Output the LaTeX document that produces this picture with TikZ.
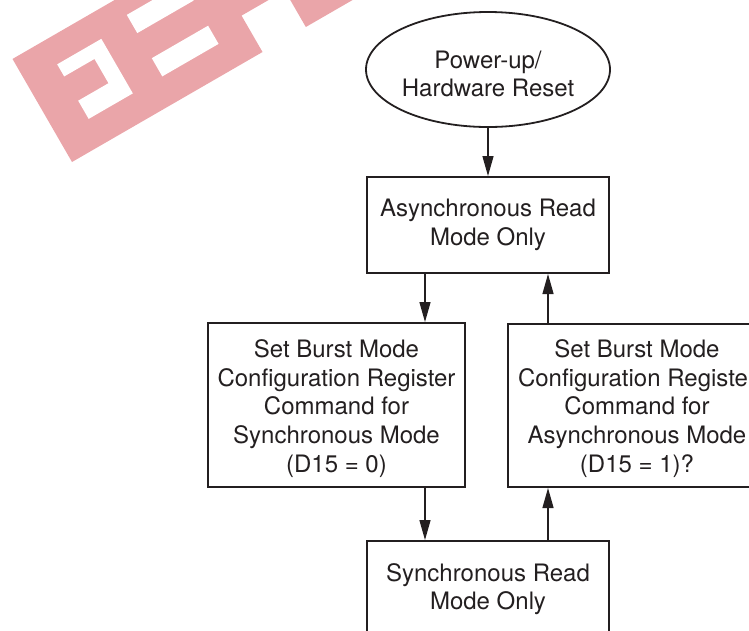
\documentclass[tikz,border=0pt]{standalone}
\usepackage{fontspec}
\setmainfont{TeX Gyre Heros}
\usetikzlibrary{shapes.geometric,arrows.meta}
\definecolor{wmpink}{RGB}{234,165,169}
\definecolor{ink}{RGB}{35,31,32}
\begin{document}
\begin{tikzpicture}[x=1pt,y=-1pt,
  every node/.style={font=\fontsize{24}{28.7}\selectfont, text=ink, align=center, inner sep=0pt},
  boxnode/.style={draw=ink, line width=2pt, rectangle},
  startnode/.style={draw=ink, line width=1.8pt, ellipse, minimum width=244pt, minimum height=115pt},
  arr/.style={draw=ink, line width=1.3pt, -{Triangle[length=20pt,width=11pt]}}]
\useasboundingbox (0,0) rectangle (749,630);
\clip (0,0) rectangle (749,630);
% watermark
\begin{scope}[shift={(72,162)}, rotate=30]
\fill[wmpink] (0,0) -- (220,0) -- (220,-42) -- (270,-42) -- (270,0) -- (420,0) -- (420,-119) -- (0,-119) -- cycle;
\fill[white] (36,-29) -- (87,-29) -- (87,-92) -- (36,-92) -- (36,-78) -- (71,-78) -- (71,-50) -- (36,-50) -- cycle;
\fill[white] (121,-29) rectangle (186,-50);
\fill[white] (121,-79) rectangle (186,-100);
\end{scope}
% nodes
\node[startnode] (pwr) at (488,69.5) {};
\node (pwrtxt) at (488,74) {Power-up/\\Hardware Reset};
\node[boxnode, minimum width=242pt, minimum height=96pt] (async) at (488,225) {Asynchronous Read\\Mode Only};
\node[boxnode, minimum width=257pt, minimum height=164pt] (setsync) at (336.5,405) {};
\node (setsynctxt) at (336.5,408.5) {Set Burst Mode\\Configuration Register\\Command for\\Synchronous Mode\\(D15 = 0)};
\node[boxnode, minimum width=258pt, minimum height=163pt] (setasync) at (637,405.5) {};
\node (setasynctxt) at (637,408.5) {Set Burst Mode\\Configuration Register\\Command for\\Asynchronous Mode\\(D15 = 1)?};
\node[boxnode, minimum width=242pt, minimum height=96pt] (sync) at (488,589) {Synchronous Read\\Mode Only};
% connectors
\coordinate (xl) at (425,0);
\coordinate (xr) at (548,0);
\draw[arr] (pwr.south) -- (async.north);
\draw[arr] (async.south -| xl) -- (setsync.north -| xl);
\draw[arr] (setsync.south -| xl) -- (sync.north -| xl);
\draw[arr] (sync.north -| xr) -- (setasync.south -| xr);
\draw[arr] (setasync.north -| xr) -- (async.south -| xr);
\end{tikzpicture}
\end{document}
